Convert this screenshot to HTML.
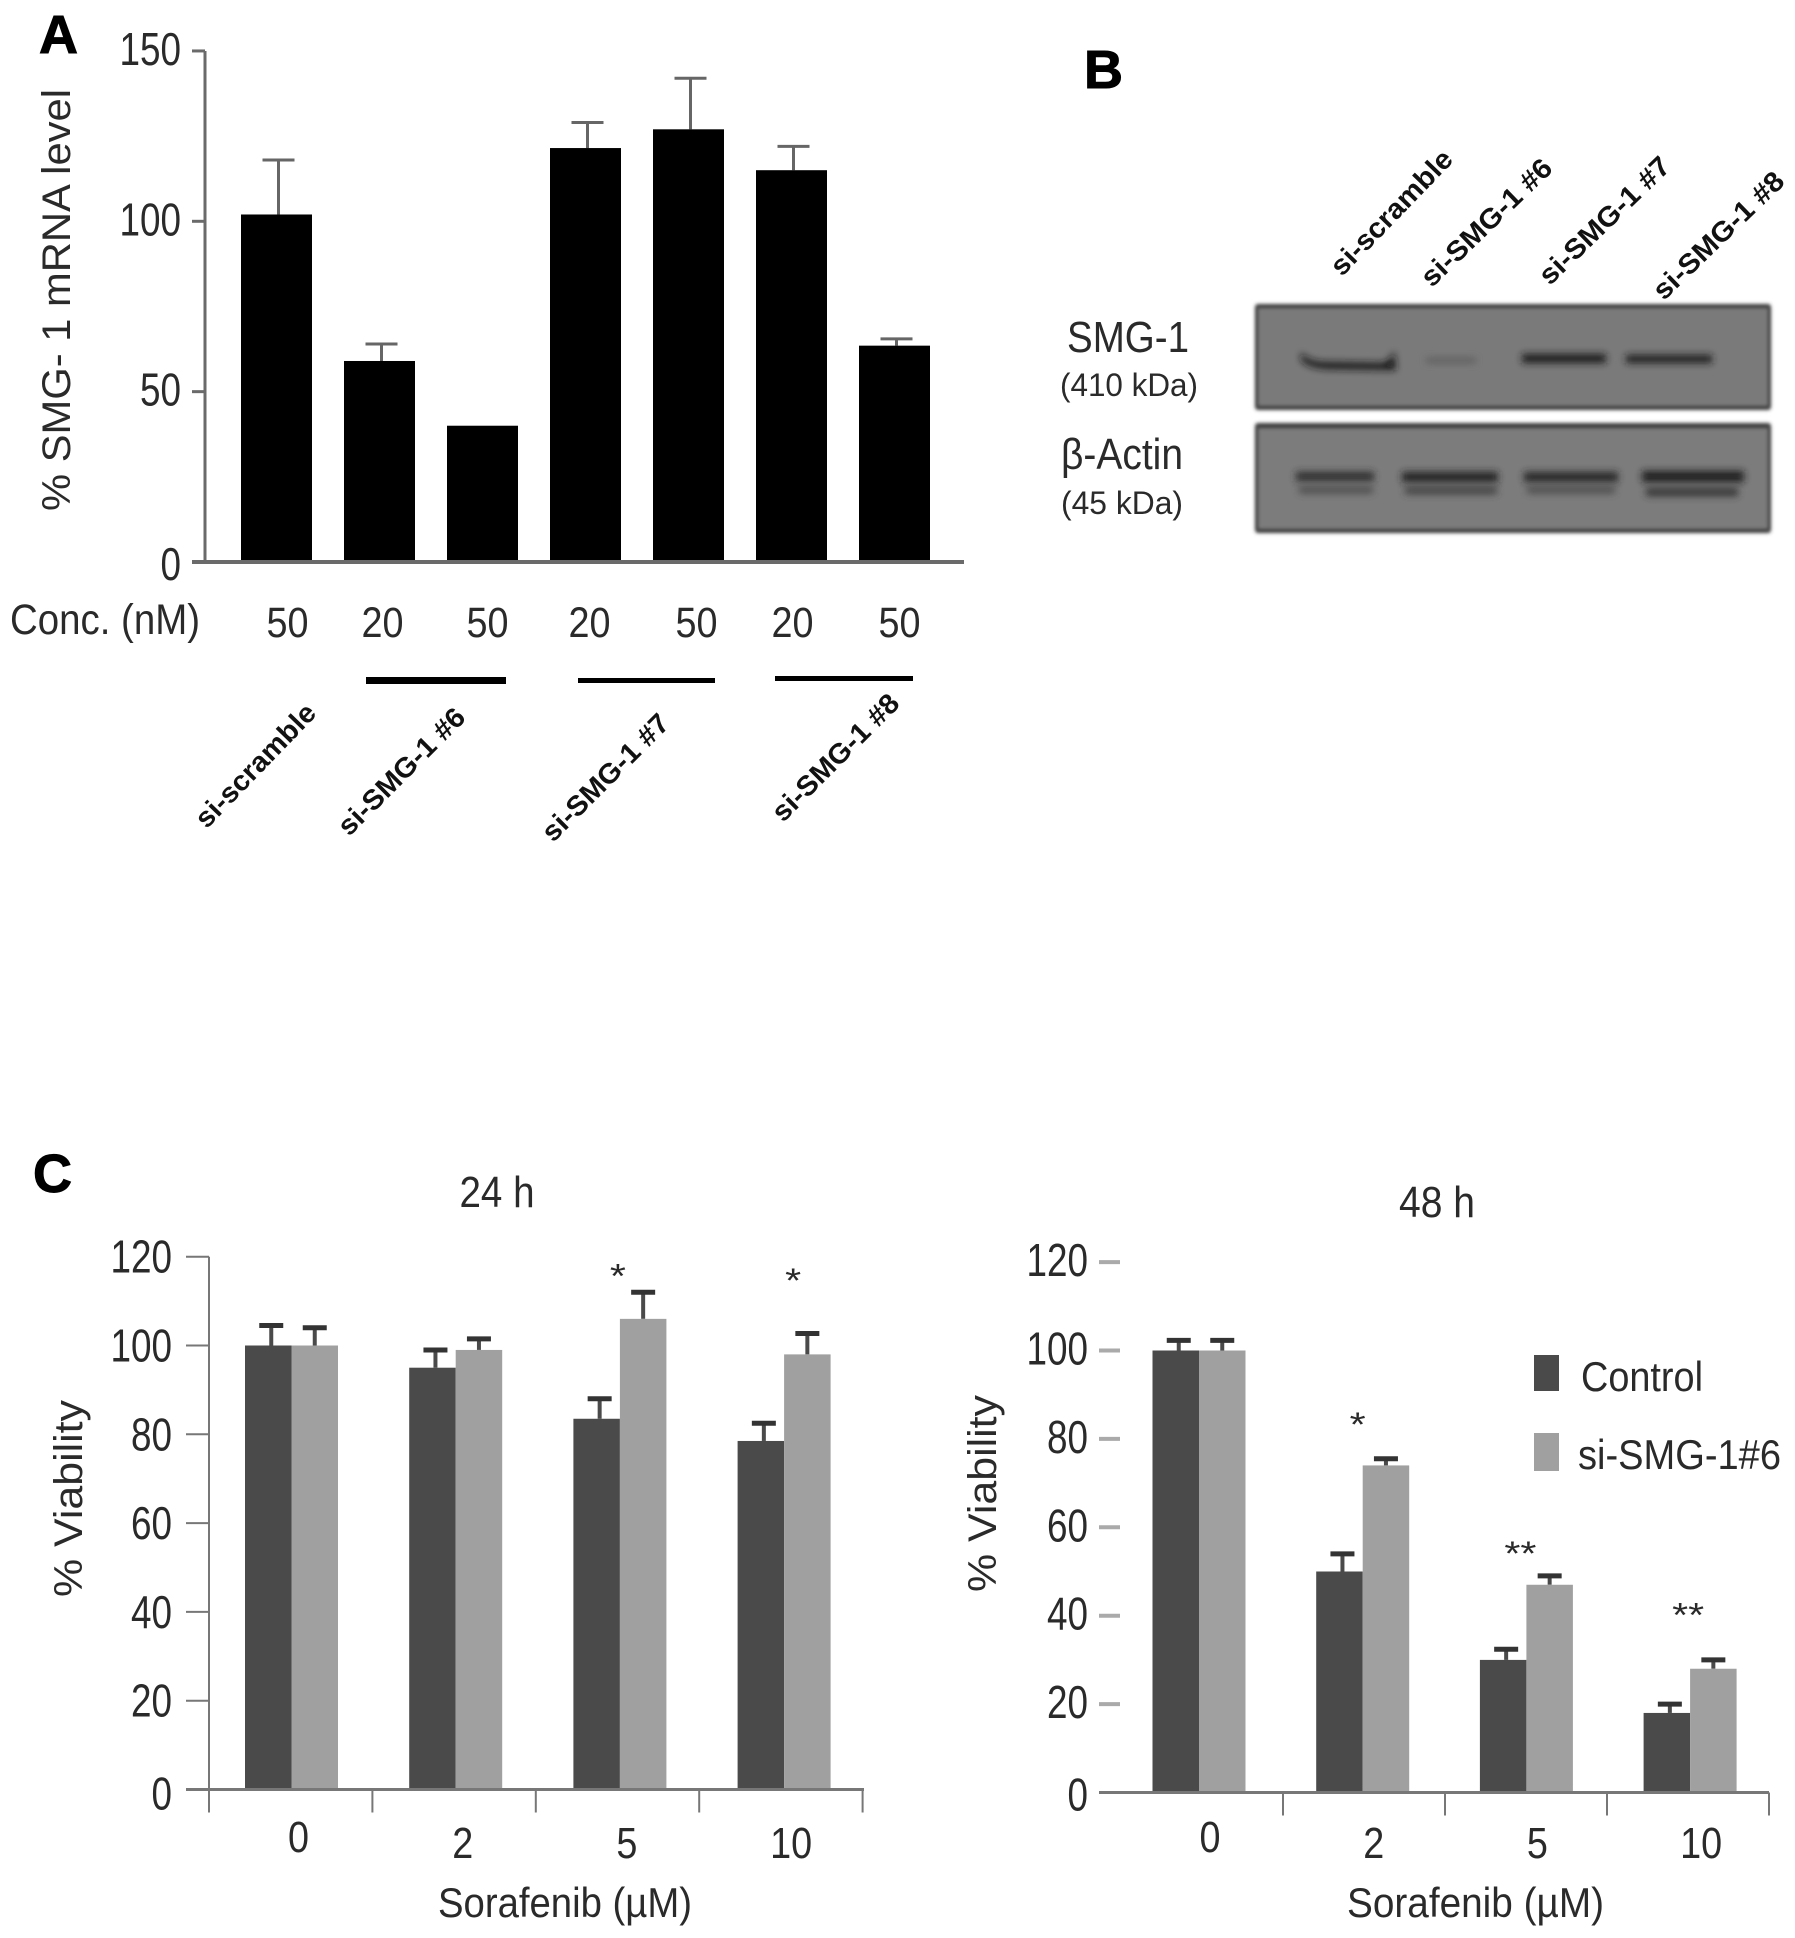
<!DOCTYPE html>
<html>
<head>
<meta charset="utf-8">
<title>SMG-1 knockdown figure</title>
<style>
html,body{margin:0;padding:0;background:#fff;}
svg{display:block;}
text{font-family:"Liberation Sans",sans-serif;fill:#2a2a2a;}
.panel{font-weight:bold;fill:#000;stroke:#000;stroke-width:1px;}
.rot{font-weight:bold;fill:#111;}
</style>
</head>
<body>
<svg id="fig" xmlns="http://www.w3.org/2000/svg" width="1795" height="1938" viewBox="0 0 1795 1938">
  <defs>
    <filter id="b2" x="-20%" y="-200%" width="140%" height="500%"><feGaussianBlur stdDeviation="3.6"/></filter>
    <filter id="b1" x="-5%" y="-5%" width="110%" height="110%"><feGaussianBlur stdDeviation="1.8"/></filter>
  </defs>
  <rect width="1795" height="1938" fill="#fff"/>

  <!-- Panel letters -->
  <text class="panel" x="39" y="53" font-size="54">A</text>
  <text class="panel" x="1084" y="88" font-size="54">B</text>
  <text class="panel" x="33" y="1192" font-size="54">C</text>

  <!-- Panel A static -->
  <g id="chartA"></g>
  <text transform="translate(70,511) rotate(-90)" font-size="40" textLength="422" lengthAdjust="spacingAndGlyphs">% SMG- 1 mRNA level</text>
  <text x="10" y="634" font-size="43" textLength="190" lengthAdjust="spacingAndGlyphs">Conc. (nM)</text>
  <rect x="366" y="677" width="140" height="7" fill="#000"/>
  <rect x="578" y="678" width="137" height="5" fill="#000"/>
  <rect x="775" y="676" width="138" height="5" fill="#000"/>
  <text class="rot" transform="translate(255,765) rotate(-46)" y="10" text-anchor="middle" font-size="28" textLength="160" lengthAdjust="spacingAndGlyphs">si-scramble</text>
  <text class="rot" transform="translate(401,771) rotate(-45)" y="10" text-anchor="middle" font-size="28" textLength="167" lengthAdjust="spacingAndGlyphs">si-SMG-1 #6</text>
  <text class="rot" transform="translate(605,777) rotate(-45)" y="10" text-anchor="middle" font-size="28" textLength="167" lengthAdjust="spacingAndGlyphs">si-SMG-1 #7</text>
  <text class="rot" transform="translate(835,757) rotate(-45)" y="10" text-anchor="middle" font-size="28" textLength="167" lengthAdjust="spacingAndGlyphs">si-SMG-1 #8</text>

  <!-- Panel B: blot -->
  <g>
    <text class="rot" transform="translate(1391,212) rotate(-46)" y="10" text-anchor="middle" font-size="28" textLength="162" lengthAdjust="spacingAndGlyphs">si-scramble</text>
    <text class="rot" transform="translate(1486,222) rotate(-44)" y="10" text-anchor="middle" font-size="28" textLength="170" lengthAdjust="spacingAndGlyphs">si-SMG-1 #6</text>
    <text class="rot" transform="translate(1604,220) rotate(-44)" y="10" text-anchor="middle" font-size="28" textLength="170" lengthAdjust="spacingAndGlyphs">si-SMG-1 #7</text>
    <text class="rot" transform="translate(1718,235) rotate(-44)" y="10" text-anchor="middle" font-size="28" textLength="170" lengthAdjust="spacingAndGlyphs">si-SMG-1 #8</text>

    <text x="1128" y="352" text-anchor="middle" font-size="44" textLength="122" lengthAdjust="spacingAndGlyphs">SMG-1</text>
    <text x="1129" y="396" text-anchor="middle" font-size="32" textLength="138" lengthAdjust="spacingAndGlyphs">(410 kDa)</text>
    <text x="1122" y="469" text-anchor="middle" font-size="44" textLength="122" lengthAdjust="spacingAndGlyphs">β-Actin</text>
    <text x="1122" y="514" text-anchor="middle" font-size="32" textLength="122" lengthAdjust="spacingAndGlyphs">(45 kDa)</text>

    <g>
      <rect x="1255" y="304" width="516" height="106" rx="3" fill="#3d3d3d" filter="url(#b1)"/>
      <rect x="1258" y="308" width="510" height="98" fill="#7a7a7a" filter="url(#b1)"/>
      <path d="M1301 352 Q1306 361 1323 362 L1383 363 Q1392 360 1394 350 L1396 370 L1328 369 Q1308 368 1301 360Z" fill="#161616" filter="url(#b2)"/>
      <rect x="1426" y="358" width="50" height="5" fill="#5c5c5c" filter="url(#b2)"/>
      <rect x="1522" y="354" width="84" height="9" fill="#1e1e1e" filter="url(#b2)"/>
      <rect x="1626" y="355" width="86" height="8" fill="#1e1e1e" filter="url(#b2)"/>
    </g>
    <g>
      <rect x="1255" y="423" width="516" height="110" rx="3" fill="#3d3d3d" filter="url(#b1)"/>
      <rect x="1258" y="428" width="510" height="101" fill="#7c7c7c" filter="url(#b1)"/>
      <rect x="1296" y="472" width="78" height="9" fill="#2a2a2a" filter="url(#b2)"/>
      <rect x="1402" y="472" width="96" height="10" fill="#242424" filter="url(#b2)"/>
      <rect x="1524" y="472" width="94" height="10" fill="#262626" filter="url(#b2)"/>
      <rect x="1642" y="471" width="102" height="11" fill="#1a1a1a" filter="url(#b2)"/>
      <rect x="1299" y="487" width="74" height="6" fill="#444" filter="url(#b2)"/>
      <rect x="1405" y="487" width="92" height="7" fill="#3c3c3c" filter="url(#b2)"/>
      <rect x="1527" y="487" width="88" height="6" fill="#444" filter="url(#b2)"/>
      <rect x="1646" y="488" width="92" height="8" fill="#303030" filter="url(#b2)"/>
    </g>
  </g>

  <!-- Panel C -->
  <g id="chartL"></g>
  <g id="chartR"></g>
  <text x="497" y="1207" text-anchor="middle" font-size="44" textLength="75" lengthAdjust="spacingAndGlyphs">24 h</text>
  <text x="1437" y="1217" text-anchor="middle" font-size="44" textLength="76" lengthAdjust="spacingAndGlyphs">48 h</text>
  <text transform="translate(82,1597) rotate(-90)" font-size="40" textLength="197" lengthAdjust="spacingAndGlyphs">% Viability</text>
  <text transform="translate(996,1592) rotate(-90)" font-size="40" textLength="197" lengthAdjust="spacingAndGlyphs">% Viability</text>
  <text x="438" y="1917" font-size="42" textLength="254" lengthAdjust="spacingAndGlyphs">Sorafenib (µM)</text>
  <text x="1347" y="1917" font-size="42" textLength="257" lengthAdjust="spacingAndGlyphs">Sorafenib (µM)</text>

  <g>
    <rect x="1534" y="1355" width="25" height="36" fill="#4a4a4a"/>
    <text x="1581" y="1391" font-size="42" textLength="122" lengthAdjust="spacingAndGlyphs">Control</text>
    <rect x="1534" y="1433" width="25" height="38" fill="#a0a0a0"/>
    <text x="1578" y="1469" font-size="42" textLength="203" lengthAdjust="spacingAndGlyphs">si-SMG-1#6</text>
  </g>
</svg>
<script>
// Panel A data
var mrnaCategories = ['si-scramble 50', 'si-SMG-1 #6 20', 'si-SMG-1 #6 50', 'si-SMG-1 #7 20', 'si-SMG-1 #7 50', 'si-SMG-1 #8 20', 'si-SMG-1 #8 50'];
var mrnaValues = [102, 59, 40, 121.5, 127, 115, 63.5];
var mrnaErrorTops = [118, 64, 40, 129, 142, 122, 65.5];
var mrnaConcLabels = ['50', '20', '50', '20', '50', '20', '50'];
var mrnaTicks = [0, 50, 100, 150];

// Panel C data
var doseLabels = ['0', '2', '5', '10'];
var viabilityTicks = [0, 20, 40, 60, 80, 100, 120];
var control24 = [100, 95, 83.5, 78.5];
var silenced24 = [100, 99, 106, 98];
var controlErr24 = [104.5, 99, 88, 82.5];
var silencedErr24 = [104, 101.5, 112, 102.7];
var stars24 = ['', '', '*', '*'];
var starLevels24 = [0, 0, 116, 115];
var control48 = [100, 50, 30, 18];
var silenced48 = [100, 74, 47, 28];
var controlErr48 = [102.3, 54, 32.4, 20];
var silencedErr48 = [102.3, 75.5, 49, 30];
var stars48 = ['', '*', '**', '**'];
var starLevels48 = [0, 83.6, 54.4, 40.5];

var NS = 'http://www.w3.org/2000/svg';
function mk(parent, tag, attrs) {
  var el = document.createElementNS(NS, tag);
  for (var k in attrs) el.setAttribute(k, attrs[k]);
  parent.appendChild(el);
  return el;
}
function label(parent, x, y, str, size, anchor, width) {
  var el = mk(parent, 'text', {x: x, y: y, 'font-size': size, 'text-anchor': anchor, textLength: width, lengthAdjust: 'spacingAndGlyphs'});
  el.textContent = str;
  return el;
}

// ---- Panel A ----
(function () {
  var g = document.getElementById('chartA');
  var yA = function (v) { return 562 - v * 3.407; };
  var xA = function (i) { return 241 + i * 103; };
  var barW = 71, axis = '#6a6a6a';
  var concNudge = [11, 3, 5, 4, 8, 1, 5];
  mrnaValues.forEach(function (v, i) {
    var x = xA(i);
    if (mrnaErrorTops[i] > v) {
      var s = mk(g, 'line', {x1: x + barW / 2 + 2, x2: x + barW / 2 + 2, y1: yA(v), y2: yA(mrnaErrorTops[i]), stroke: '#666', 'stroke-width': 3});
      
      
      var c = mk(g, 'line', {x1: x + barW / 2 - 14, x2: x + barW / 2 + 18, y1: yA(mrnaErrorTops[i]), y2: yA(mrnaErrorTops[i]), stroke: '#666', 'stroke-width': 3});
      
      
    }
    var b = mk(g, 'rect', {x: x, y: yA(v), width: barW, height: yA(0) - yA(v), fill: '#000'});
    
    
    var t = label(g, x + barW / 2 + concNudge[i], 637, mrnaConcLabels[i], 43, 'middle', 42);
    
    
  });
  var ya = mk(g, 'line', {x1: 205, x2: 205, y1: yA(150), y2: yA(0), stroke: axis, 'stroke-width': 3});
  
  
  var xa = mk(g, 'line', {x1: 192, x2: 964, y1: yA(0), y2: yA(0), stroke: axis, 'stroke-width': 4});
  
  
  mrnaTicks.forEach(function (v) {
    var tk = mk(g, 'line', {x1: 192, x2: 205, y1: yA(v), y2: yA(v), stroke: axis, 'stroke-width': 3});
    
    
    var str = String(v);
    var t = label(g, 181, yA(v) + (v === 0 ? 18 : 14), str, 46, 'end', str.length * 20.5);
    
    
  });
})();

// ---- Panel C shared drawing ----
function drawViability(g, o) {
  var yS = function (v) { return o.y0 - v * o.k; };
  var xS = function (i) { return o.x0 + i * o.step; };
  var dark = '#4a4a4a', light = '#a0a0a0';
  doseLabels.forEach(function (lab, i) {
    var xd = xS(i), xl = xd + o.barW;
    var stem1 = mk(g, 'line', {x1: xd + o.barW / 2 + 3, x2: xd + o.barW / 2 + 3, y1: yS(o.control[i]), y2: yS(o.controlErr[i]), stroke: '#4a4a4a', 'stroke-width': 4});
    
    
    var cap1 = mk(g, 'line', {x1: xd + o.barW / 2 - 9, x2: xd + o.barW / 2 + 15, y1: yS(o.controlErr[i]), y2: yS(o.controlErr[i]), stroke: '#333', 'stroke-width': 5});
    
    
    var stem2 = mk(g, 'line', {x1: xl + o.barW / 2, x2: xl + o.barW / 2, y1: yS(o.silenced[i]), y2: yS(o.silencedErr[i]), stroke: '#4a4a4a', 'stroke-width': 4});
    
    
    var cap2 = mk(g, 'line', {x1: xl + o.barW / 2 - 12, x2: xl + o.barW / 2 + 12, y1: yS(o.silencedErr[i]), y2: yS(o.silencedErr[i]), stroke: '#333', 'stroke-width': 5});
    
    
    var b1 = mk(g, 'rect', {x: xd, y: yS(o.control[i]), width: o.barW, height: o.y0 - yS(o.control[i]), fill: dark});
    
    
    var b2 = mk(g, 'rect', {x: xl, y: yS(o.silenced[i]), width: o.barW, height: o.y0 - yS(o.silenced[i]), fill: light});
    
    
    var tl = label(g, xd + o.barW + o.labOff, i === 0 ? 1852 : 1858, lab, 44, 'middle', lab.length * 21);
    
    
    if (o.stars[i]) {
      var st = label(g, xd + o.barW + o.starOff[i], yS(o.starLevels[i]) + 13, o.stars[i], 34, 'middle', o.stars[i].length * 16);
      
      
    }
  });
  var xa = mk(g, 'line', {x1: o.axisL, x2: o.axisR, y1: o.y0, y2: o.y0, stroke: '#777', 'stroke-width': 3});
  
  
  for (var c = 0; c <= doseLabels.length; c++) {
    if (c === 0 && !o.yAxis) continue;
    var px = o.tickX0 + c * o.tickStep;
    var xt = mk(g, 'line', {x1: px, x2: px, y1: o.y0, y2: o.y0 + 23, stroke: '#777', 'stroke-width': 2});
    
    
  }
  if (o.yAxis) {
    var ya = mk(g, 'line', {x1: o.tickX0, x2: o.tickX0, y1: yS(120), y2: o.y0, stroke: '#777', 'stroke-width': 2});
    
    
  }
  viabilityTicks.forEach(function (v) {
    if (v > 0 || o.yAxis) {
      var yt = mk(g, 'line', {x1: o.yTickL, x2: o.yTickR, y1: yS(v), y2: yS(v), stroke: o.yAxis ? '#777' : '#aaa', 'stroke-width': o.yAxis ? 2 : 4});
      
      
    }
    var str = String(v);
    var t = label(g, o.labelR, yS(v) + (v === 0 ? o.labDy + 4 : o.labDy), str, 46, 'end', str.length * 20.5);
    
    
  });
}
drawViability(document.getElementById('chartL'), {
  control: control24, silenced: silenced24, controlErr: controlErr24, silencedErr: silencedErr24, stars: stars24, starLevels: starLevels24,
  y0: 1789.5, k: 4.44, x0: 245, step: 164.2, barW: 46.5, labOff: 7, starOff: [0, 0, -2, 9],
  axisL: 186, axisR: 864, tickX0: 209, tickStep: 163.4, yAxis: true, yTickL: 186, yTickR: 209, labelR: 172, labDy: 16
});
drawViability(document.getElementById('chartR'), {
  control: control48, silenced: silenced48, controlErr: controlErr48, silencedErr: silencedErr48, stars: stars48, starLevels: starLevels48,
  y0: 1792.5, k: 4.42, x0: 1152.5, step: 163.7, barW: 46.5, labOff: 11, starOff: [0, -5, -6, -2],
  axisL: 1099, axisR: 1769, tickX0: 1121, tickStep: 162, yAxis: false, yTickL: 1099, yTickR: 1120, labelR: 1088, labDy: 14
});
</script>
</body>
</html>
